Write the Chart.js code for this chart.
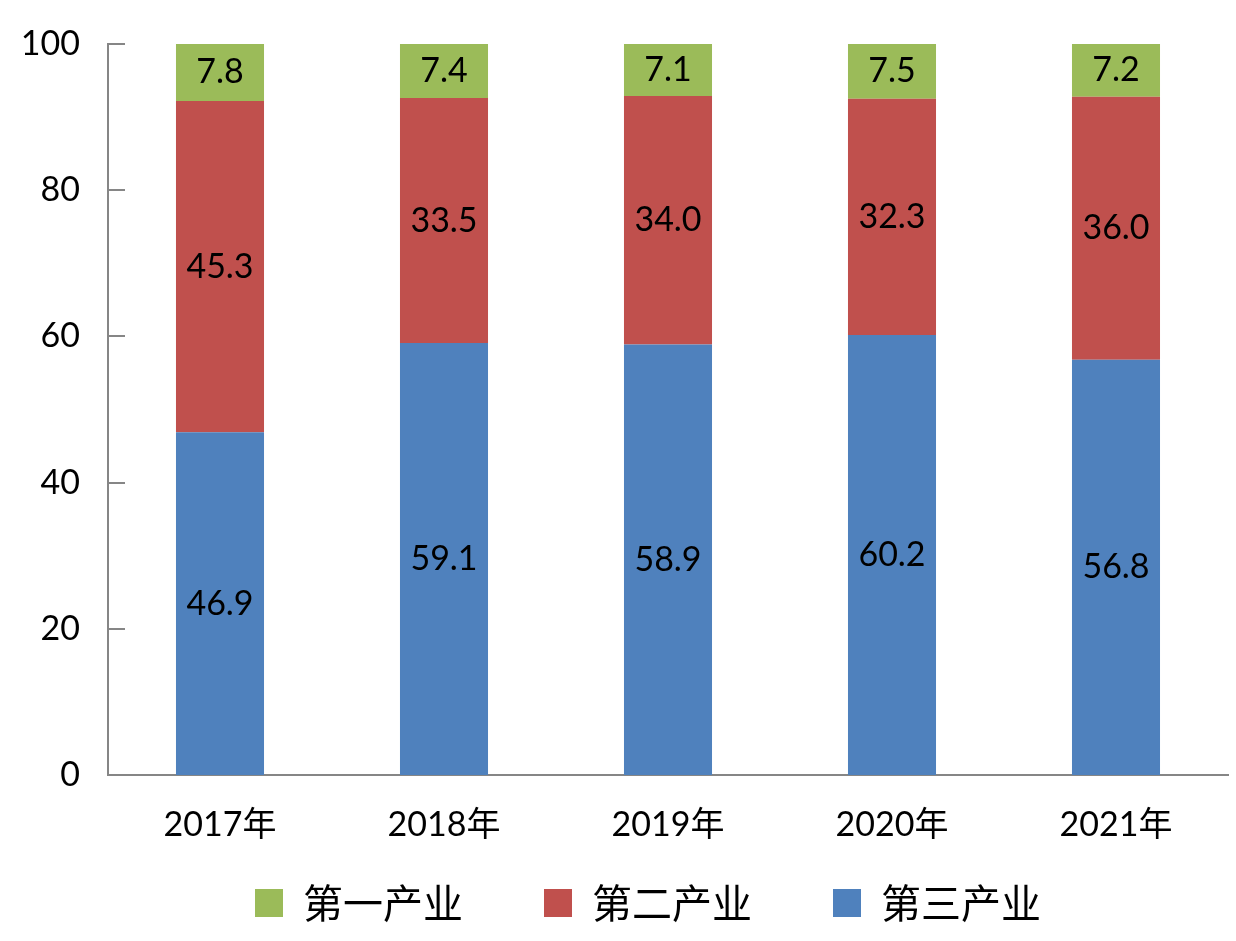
<!DOCTYPE html>
<html lang="zh">
<head>
<meta charset="UTF-8">
<title>三次产业结构</title>
<style>
  body { margin: 0; background: #fff; }
  #chartBox { width: 1236px; height: 941px; }
</style>
</head>
<body>
<div id="chartBox"><canvas id="myChart" width="1236" height="941"></canvas></div>
<script src="https://cdn.jsdelivr.net/npm/chart.js"></script>
<script>
var years = ['2017年', '2018年', '2019年', '2020年', '2021年'];
var primary = [7.8, 7.4, 7.1, 7.5, 7.2];
var secondary = [45.3, 33.5, 34.0, 32.3, 36.0];
var tertiary = [46.9, 59.1, 58.9, 60.2, 56.8];
var yMin = 0, yMax = 100, yStep = 20;

var latin = 'Lato, "Noto Sans CJK SC", sans-serif';
var axisColor = '#868686';

// value in the middle of each segment
var barLabels = {
    id: 'barLabels',
    afterDatasetsDraw: function(chart) {
        var ctx = chart.ctx;
        ctx.save();
        ctx.font = '34px ' + latin;
        ctx.fillStyle = '#000';
        ctx.textAlign = 'center';
        ctx.textBaseline = 'middle';
        chart.data.datasets.forEach(function(ds, i) {
            chart.getDatasetMeta(i).data.forEach(function(bar, j) {
                var p = bar.getProps(['x', 'y', 'base'], true);
                ctx.fillText(ds.data[j].toFixed(1), p.x, (p.y + p.base) / 2);
            });
        });
        ctx.restore();
    }
};

// short tick marks on the inner side of the y axis
var innerTicks = {
    id: 'innerTicks',
    afterDraw: function(chart) {
        var ctx = chart.ctx, y = chart.scales.y, left = chart.chartArea.left;
        ctx.save();
        ctx.strokeStyle = axisColor;
        ctx.lineWidth = 2;
        y.ticks.forEach(function(t) {
            var py = Math.round(y.getPixelForValue(t.value));
            ctx.beginPath();
            ctx.moveTo(left, py);
            ctx.lineTo(left + 17, py);
            ctx.stroke();
        });
        ctx.restore();
    }
};

// wide gaps between legend items, but keep the legend box short
var legendGap = 81;
var legendFit = {
    id: 'legendFit',
    afterInit: function(chart) {
        var lg = chart.legend, fit = lg.fit;
        lg.fit = function() { fit.call(this); this.height = 60; };
    },
    afterLayout: function(chart) {
        chart.legend.top -= legendGap - 8;
        chart.legend.left += 68;
    }
};

var myChart = new Chart(document.getElementById('myChart').getContext('2d'), {
    type: 'bar',
    data: {
        labels: years,
        datasets: [{
            label: '第三产业',
            data: tertiary,
            backgroundColor: '#4F81BD'
        }, {
            label: '第二产业',
            data: secondary,
            backgroundColor: '#C0504D'
        }, {
            label: '第一产业',
            data: primary,
            backgroundColor: '#9BBB59'
        }]
    },
    options: {
        responsive: false,
        animation: false,
        layout: {
            padding: { top: 44, right: 8, bottom: 6, left: 0 }
        },
        datasets: {
            bar: {
                categoryPercentage: 1,
                barPercentage: 0.393,
                borderWidth: 0
            }
        },
        scales: {
            x: {
                stacked: true,
                grid: { display: false, drawTicks: false },
                border: { color: axisColor, width: 2 },
                ticks: {
                    color: '#000',
                    padding: 30,
                    font: { family: latin, size: 34 }
                },
                afterFit: function(scale) { scale.height = 100; }
            },
            y: {
                stacked: true,
                min: yMin,
                max: yMax,
                grid: { display: false, drawTicks: false },
                border: { color: axisColor, width: 2 },
                ticks: {
                    stepSize: yStep,
                    color: '#000',
                    padding: 28,
                    font: { family: latin, size: 34 }
                },
                afterFit: function(scale) {
                    scale.width = 108;
                    scale.paddingTop = 0;
                    scale.paddingBottom = 0;
                }
            }
        },
        plugins: {
            legend: {
                position: 'bottom',
                reverse: true,
                labels: {
                    boxWidth: 28,
                    boxHeight: 28,
                    padding: legendGap,
                    color: '#000',
                    font: { family: '"Noto Sans CJK SC", sans-serif', size: 40 }
                }
            },
            tooltip: { enabled: false }
        }
    },
    plugins: [barLabels, innerTicks, legendFit]
});
</script>
</body>
</html>
